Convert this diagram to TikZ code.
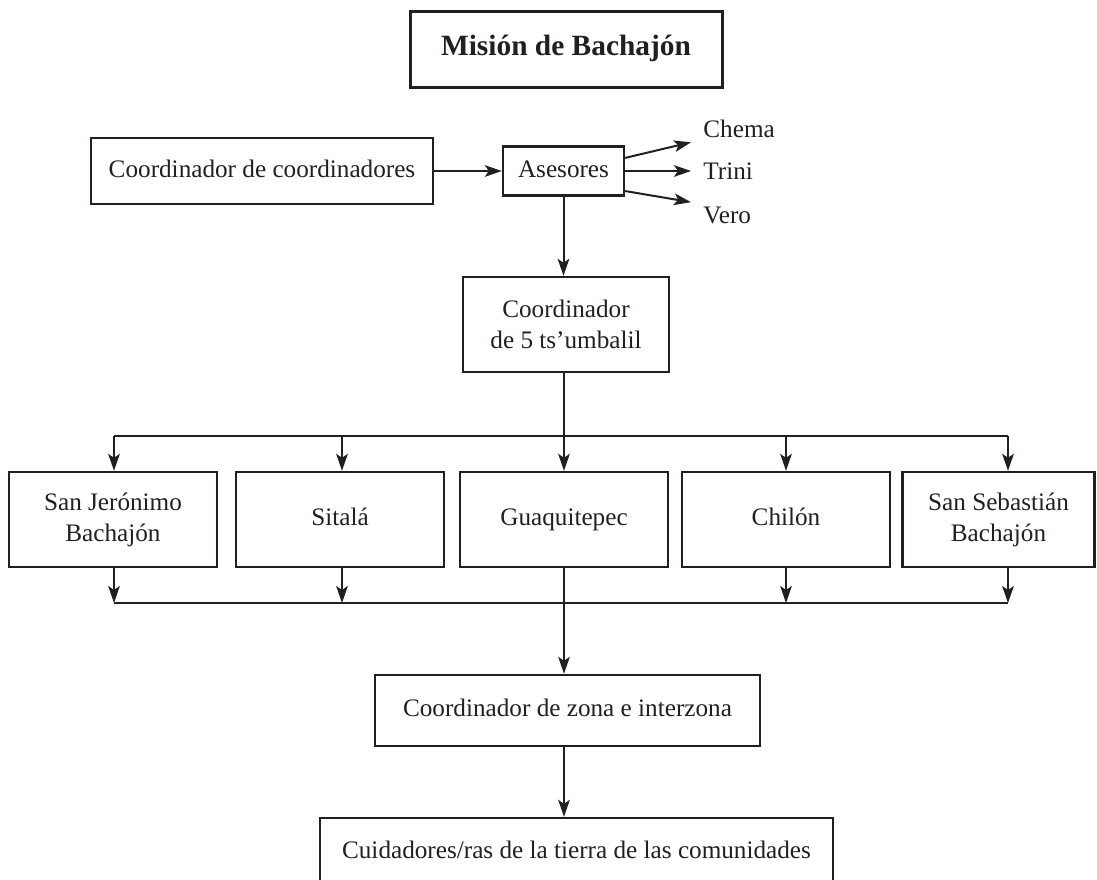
\documentclass[tikz,border=0pt]{standalone}
\usepackage{fontspec}
\setmainfont{Liberation Serif}
\usetikzlibrary{arrows.meta}
\definecolor{ink}{RGB}{35,31,32}

\begin{document}
\begin{tikzpicture}[x=0.5pt, y=-0.5pt,
    box/.style={draw=ink, line width=1.2pt, inner sep=0pt, align=center, text=ink,
      font=\fontsize{12.6}{15.5}\selectfont},
    one/.style={text height=8.8pt, text depth=2.8pt},
    place/.style={box, minimum width=104pt, minimum height=47.5pt},
    lbl/.style={anchor=west, inner xsep=6pt, inner ysep=2pt, text=ink,
      font=\fontsize{12.6}{15.5}\selectfont},
    link/.style={draw=ink, line width=1pt},
    arr/.style={link, -{Stealth[length=8.5pt, width=5.8pt, inset=2pt]}}]
	\clip (0,0) rectangle (1097,879);

	% top part
	\node[box, one, line width=1.5pt, minimum width=156pt, minimum height=38pt,
	  font=\bfseries\fontsize{14.7}{18}\selectfont] (mision) at (566,49) {Misión de Bachajón};
	\node[box, one, minimum width=171pt, minimum height=33pt] (coco) at (262,171) {Coordinador de coordinadores};
	\node[box, one, minimum width=60.5pt, minimum height=24.5pt] (ases) at (563.5,171) {Asesores};
	\node[lbl] (chema) at (691,129) {Chema};
	\node[lbl] (trini) at (691,171) {Trini};
	\node[lbl] (vero) at (691,215) {Vero};

	\draw[arr] (coco) -- (ases);
	\draw[arr] (ases.12) -- (chema.south west);
	\draw[arr] (ases) -- (trini);
	\draw[arr] (ases.-18) -- (vero.north west);

	\node[box, minimum width=103pt, minimum height=47.5pt] (ts) at (566,324.5) {Coordinador\\de 5 ts’umbalil};
	\draw[arr] (ases.south) -- (ases.south |- ts.north);

	% the five places
	\foreach \n/\x in {1/114, 2/342, 3/564, 4/786, 5/1008} {
		\coordinate (d\n) at (\x,436);
		\coordinate (c\n) at (\x,603);
	}
	\node[place] (sjb) at (113,519.5) {San Jerónimo\\Bachajón};
	\node[place, one] (sit) at (340,519.5) {Sitalá};
	\node[place, one] (gua) at (564,519.5) {Guaquitepec};
	\node[place, one] (chi) at (786,519.5) {Chilón};
	\node[place, minimum width=96pt] (ssb) at (998.5,519.5) {San Sebastián\\Bachajón};

	\draw[link] (d1) -- (d5);
	\draw[arr] (ts.south -| d3) -- (gua.north -| d3);
	\foreach \n/\b in {1/sjb, 2/sit, 4/chi, 5/ssb} {
		\draw[arr] (d\n) -- (d\n |- \b.north);
		\draw[arr] (d\n |- \b.south) -- (c\n);
	}
	\draw[link] (c1) -- (c5);

	% bottom part
	\node[box, one, minimum width=192.5pt, minimum height=35.5pt] (zona) at (567.5,710.5) {Coordinador de zona e interzona};
	\node[box, one, minimum width=256.5pt, minimum height=34pt] (cuid) at (576.5,852) {Cuidadores/ras de la tierra de las comunidades};
	\draw[arr] (gua.south -| c3) -- (zona.north -| c3);
	\draw[arr] (zona.south -| c3) -- (cuid.north -| c3);
\end{tikzpicture}
\end{document}
